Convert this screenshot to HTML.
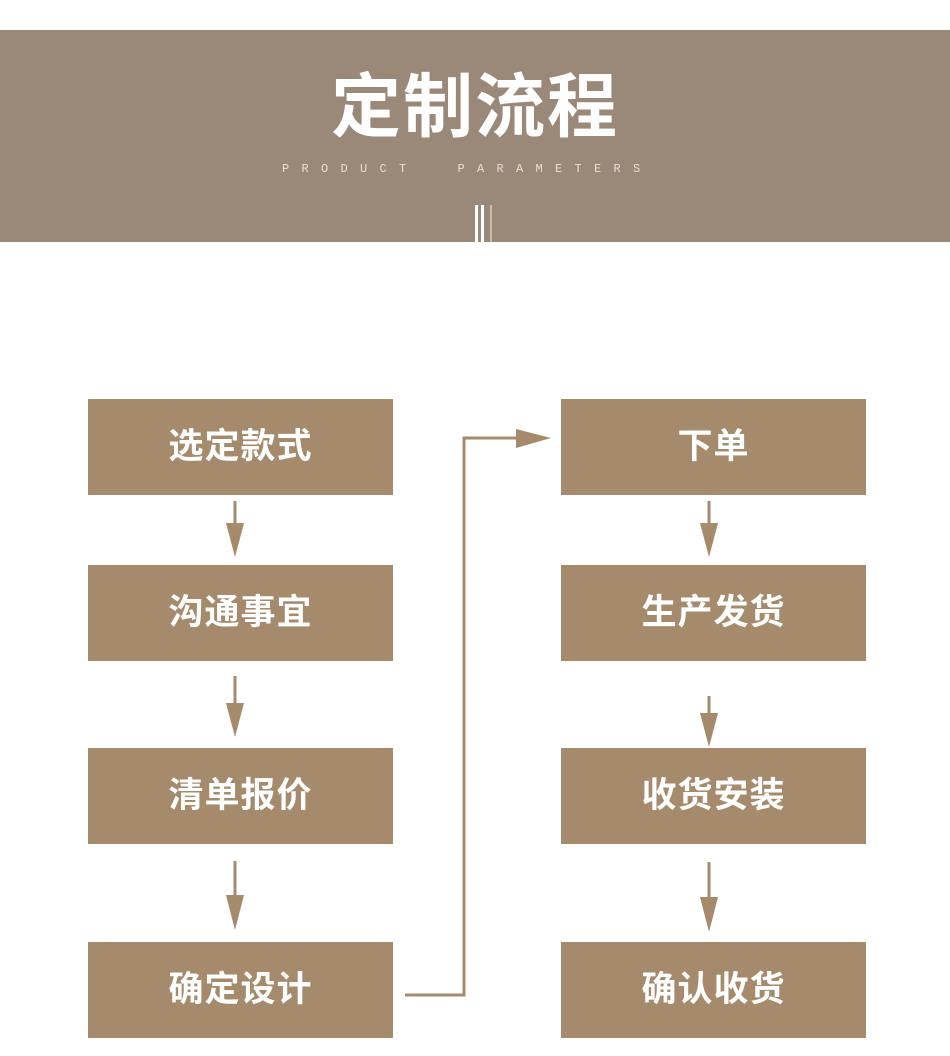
<!DOCTYPE html>
<html><head><meta charset="utf-8"><style>
body{margin:0;width:950px;height:1056px;background:#fff;position:relative;overflow:hidden;font-family:"Liberation Sans","Noto Sans CJK SC",sans-serif}
.banner{position:absolute;left:0;top:30px;width:950px;height:212px;background:#9a8878}
.t{position:absolute;left:0;width:950px;text-align:center;top:62px;color:#fff;font-size:70px;font-weight:bold;letter-spacing:2px;line-height:90px}
.s{position:absolute;left:282px;top:162px;color:#e8ded4;font-size:12px;letter-spacing:12.3px;font-family:"Liberation Mono",monospace;white-space:pre}
.b{position:absolute;width:305px;height:96px;background:#a58a6c;color:#fff;font-size:35px;font-weight:bold;text-align:center;line-height:96px;letter-spacing:1px}
</style></head><body>
<div class="banner"></div>
<div class="t">定制流程</div>
<div class="s">PRODUCT  PARAMETERS</div>
<div style="position:absolute;left:475px;top:205px;width:3px;height:37px;background:#fff"></div>
<div style="position:absolute;left:481px;top:205px;width:3px;height:37px;background:#fff"></div>
<div style="position:absolute;left:490px;top:205px;width:2px;height:37px;background:#c8bcb0"></div>
<div class="b" style="left:88px;top:399px">选定款式</div>
<div class="b" style="left:88px;top:565px">沟通事宜</div>
<div class="b" style="left:88px;top:748px">清单报价</div>
<div class="b" style="left:88px;top:942px">确定设计</div>
<div class="b" style="left:561px;top:399px">下单</div>
<div class="b" style="left:561px;top:565px">生产发货</div>
<div class="b" style="left:561px;top:748px">收货安装</div>
<div class="b" style="left:561px;top:942px">确认收货</div>
<svg width="950" height="1056" style="position:absolute;left:0;top:0" fill="#a58a6c" stroke="#a58a6c">
<g stroke-width="3">
<line x1="235" y1="501" x2="235" y2="525"/><line x1="235" y1="676" x2="235" y2="705"/><line x1="235" y1="861" x2="235" y2="897"/>
<line x1="709" y1="501" x2="709" y2="525"/><line x1="709" y1="696" x2="709" y2="715"/><line x1="709" y1="862" x2="709" y2="899"/>
<polyline points="405,995 464,995 464,438 520,438" fill="none"/>
</g>
<g stroke="none">
<polygon points="226,523 244,523 235,557"/><polygon points="226,703 244,703 235,737"/><polygon points="226,895 244,895 235,930"/>
<polygon points="700,523 718,523 709,557"/><polygon points="700,713 718,713 709,747"/><polygon points="700,897 718,897 709,932"/>
<polygon points="516,429 516,448 551,438"/>
</g>
</svg>
</body></html>
